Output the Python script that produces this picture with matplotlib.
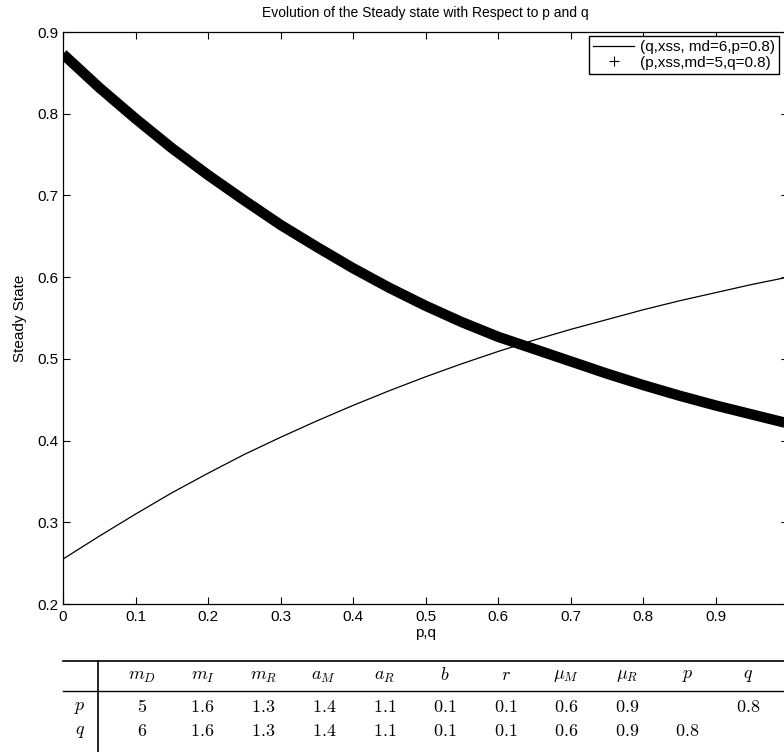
import matplotlib
matplotlib.use("Agg")
import matplotlib.pyplot as plt
from matplotlib.lines import Line2D
import numpy as np

plt.rcParams['font.family'] = ['Liberation Sans', 'DejaVu Sans']
plt.rcParams['mathtext.fontset'] = 'cm'

# steady state against q (md=6, p=0.8)
q_vals = [0.0, 0.05, 0.1, 0.15, 0.2, 0.25, 0.3, 0.35, 0.4, 0.45, 0.5,
          0.55, 0.6, 0.65, 0.7, 0.75, 0.8, 0.85, 0.9, 0.95, 1.0]
xss_q = [0.255, 0.283, 0.310, 0.336, 0.360, 0.383, 0.404, 0.424, 0.443, 0.461, 0.478,
         0.494, 0.509, 0.523, 0.536, 0.548, 0.560, 0.571, 0.581, 0.591, 0.600]

# steady state against p (md=5, q=0.8)
p_vals = q_vals
xss_p = [0.873, 0.832, 0.794, 0.758, 0.725, 0.694, 0.664, 0.637, 0.611, 0.587, 0.565,
         0.545, 0.527, 0.512, 0.497, 0.482, 0.468, 0.455, 0.443, 0.432, 0.421]

# parameter table
col_heads = [r'$m_D$', r'$m_I$', r'$m_R$', r'$a_M$', r'$a_R$', r'$b$', r'$r$',
             r'$\mu_M$', r'$\mu_R$', r'$p$', r'$q$']
row_heads = [r'$p$', r'$q$']
row_p = ['5', '1.6', '1.3', '1.4', '1.1', '0.1', '0.1', '0.6', '0.9', '', '0.8']
row_q = ['6', '1.6', '1.3', '1.4', '1.1', '0.1', '0.1', '0.6', '0.9', '0.8', '']

W, H = 784, 752
fig = plt.figure(figsize=(W / 100, H / 100), dpi=100)
ax = fig.add_axes([63 / W, 1 - 604 / H, (788 - 63) / W, (604 - 32) / H])

ax.plot(q_vals, xss_q, color='k', lw=0.9)
ax.plot(p_vals, xss_p, color='k', lw=7.5, solid_capstyle='butt')

ax.set_xlim(0, 1)
ax.set_ylim(0.2, 0.9)
ax.set_xticks(np.arange(0, 1.0, 0.1))
ax.set_xticklabels(['0', '0.1', '0.2', '0.3', '0.4', '0.5', '0.6', '0.7', '0.8', '0.9'])
ax.set_yticks(np.arange(0.2, 0.95, 0.1))
ax.set_yticklabels(['0.2', '0.3', '0.4', '0.5', '0.6', '0.7', '0.8', '0.9'])
ax.tick_params(direction='in', length=5, width=0.8, top=True, right=True,
               labelsize=11)
ax.tick_params(axis='x', pad=4)
ax.tick_params(axis='y', pad=3)
for s in ax.spines.values():
    s.set_linewidth(0.9)

ax.set_title('Evolution of the Steady state with Respect to p and q', fontsize=10, pad=11)
ax.set_xlabel('p,q', fontsize=11, labelpad=2)
ax.set_ylabel('Steady State', fontsize=11, labelpad=8)

handles = [Line2D([], [], color='k', lw=0.9),
           Line2D([], [], color='k', ls='none', marker='+', ms=7, mew=0.8)]
ax.legend(handles, ['(q,xss, md=6,p=0.8)', '(p,xss,md=5,q=0.8)'],
          loc='upper right', bbox_to_anchor=(0.99, 0.995), fontsize=11,
          frameon=True, fancybox=False, edgecolor='k', framealpha=1,
          borderpad=0.25, labelspacing=0.1, handlelength=2.7, handletextpad=0.4,
          borderaxespad=0.1)

# table drawn in pixel coordinates
tab = fig.add_axes([0, 0, 1, 1])
tab.set_xlim(0, W)
tab.set_ylim(H, 0)
tab.axis('off')
tab.plot([63, W], [661, 661], color='k', lw=1.2)
tab.plot([63, W], [691, 691], color='k', lw=1.0)
tab.plot([98, 98], [661, H], color='k', lw=1.2)

col_x = [142 + 60.6 * i for i in range(len(col_heads))]
for x, h in zip(col_x, col_heads):
    tab.text(x, 676, h, ha='center', va='center', fontsize=13)
for y, rh, row in zip([707, 732], row_heads, [row_p, row_q]):
    tab.text(80, y, rh, ha='center', va='center', fontsize=13)
    for x, v in zip(col_x, row):
        if v:
            tab.text(x, y, '$' + v + '$', ha='center', va='center', fontsize=13)

fig.savefig('out.png', dpi=100)
